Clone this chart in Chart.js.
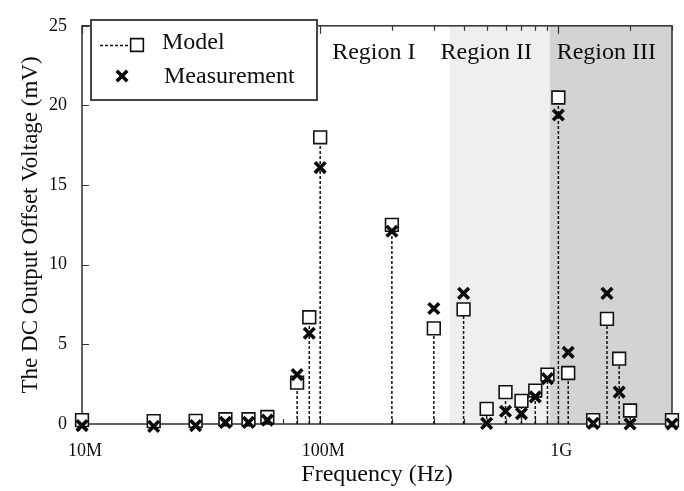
<!DOCTYPE html>
<html><head><meta charset="utf-8">
<script src="https://cdn.jsdelivr.net/npm/chart.js@4/dist/chart.umd.min.js"></script>
<style>html,body{margin:0;padding:0;background:#fff}canvas{display:block}</style>
</head><body>
<canvas id="c" width="684" height="491"></canvas>
<script>
// ---- data ----
const frequencies = [1e7,2e7,3e7,4e7,5e7,6e7,8e7,9e7,1e8,2e8,3e8,4e8,5e8,6e8,7e8,8e8,9e8,1e9,1.1e9,1.4e9,1.6e9,1.8e9,2e9,3e9];
const modelValues = [0.24,0.18,0.2,0.3,0.3,0.44,2.6,6.7,18.0,12.5,6.0,7.2,0.95,2.0,1.45,2.1,3.1,20.5,3.2,0.24,6.6,4.1,0.85,0.24];
const measuredValues = [-0.1,-0.15,-0.1,0.1,0.1,0.24,3.1,5.7,16.1,12.1,7.25,8.2,0.04,0.8,0.65,1.7,2.85,19.4,4.5,0.04,8.2,2.0,0.0,0.0];
const xMajorTicks = [1e7,1e8,1e9];
const xTickLabels = ['10M','100M','1G'];
const xMinorTicks = [2e7,3e7,4e7,5e7,6e7,7e7,8e7,9e7,2e8,3e8,4e8,5e8,6e8,7e8,8e8,9e8,2e9,3e9];
const yTicks = [0,5,10,15,20,25];
const regionNames = ['Region I','Region II','Region III'];
const regionStarts = [1e7,3.5e8,9.2e8];
const regionEnds = [3.5e8,9.2e8,3e9];
const regionColors = ['rgba(0,0,0,0)','#efefef','#d3d3d3'];
const regionLabelAt = [1.68e8,4.98e8,1.59e9];
const seriesNames = ['Model','Measurement'];

const SERIF = '"Liberation Serif", "Times New Roman", serif';
const TEXT = '#0d0d0d';

const stemData = [];
frequencies.forEach((f,i)=>{ stemData.push({x:f,y:0},{x:f,y:modelValues[i]},{x:f,y:null}); });
const modelData = frequencies.map((f,i)=>({x:f,y:modelValues[i]}));
const measData = frequencies.map((f,i)=>({x:f,y:measuredValues[i]}));

const modelStyle = {pointStyle:'rect', radius:9, borderWidth:1.6, borderColor:'#111', backgroundColor:'#fff'};
const measStyle = {pointStyle:'crossRot', radius:7.5, borderWidth:3.6, borderColor:'#0a0a0a', backgroundColor:'#0a0a0a'};

const decor = {
  id:'decor',
  beforeDatasetsDraw(chart){
    const {ctx, chartArea:a, scales:{x,y}} = chart;
    ctx.save();
    for(let i=0;i<regionNames.length;i++){
      const x0 = x.getPixelForValue(regionStarts[i]);
      const x1 = x.getPixelForValue(regionEnds[i]);
      ctx.fillStyle = regionColors[i];
      ctx.fillRect(x0, a.top, x1-x0, a.bottom-a.top);
    }
    ctx.fillStyle = TEXT;
    ctx.font = '24px ' + SERIF;
    ctx.textAlign = 'center';
    ctx.textBaseline = 'alphabetic';
    for(let i=0;i<regionNames.length;i++){
      ctx.fillText(regionNames[i], x.getPixelForValue(regionLabelAt[i]), y.getPixelForValue(22.9));
    }
    // ticks (inward)
    ctx.strokeStyle = '#333';
    ctx.lineWidth = 1.2;
    ctx.beginPath();
    xMinorTicks.forEach(v=>{
      const px = Math.round(x.getPixelForValue(v))+0.5;
      ctx.moveTo(px,a.top); ctx.lineTo(px,a.top+5);
      ctx.moveTo(px,a.bottom); ctx.lineTo(px,a.bottom-5);
    });
    xMajorTicks.forEach(v=>{
      const px = Math.round(x.getPixelForValue(v))+0.5;
      ctx.moveTo(px,a.top); ctx.lineTo(px,a.top+8);
      ctx.moveTo(px,a.bottom); ctx.lineTo(px,a.bottom-8);
    });
    yTicks.forEach(v=>{
      const py = Math.round(y.getPixelForValue(v))+0.5;
      ctx.moveTo(a.left,py); ctx.lineTo(a.left+7,py);
    });
    ctx.stroke();
    // frame
    ctx.strokeStyle = '#3a3a3a';
    ctx.lineWidth = 1.6;
    ctx.strokeRect(a.left, a.top, a.right-a.left, a.bottom-a.top);
    ctx.restore();
  },
  afterDraw(chart){
    const ctx = chart.ctx;
    ctx.save();
    ctx.fillStyle = '#fff';
    ctx.fillRect(91, 20, 226, 80);
    ctx.strokeStyle = '#444';
    ctx.lineWidth = 2;
    ctx.strokeRect(91, 20, 226, 80);
    // model sample
    ctx.strokeStyle = '#111';
    ctx.lineWidth = 1.5;
    ctx.setLineDash([3,2]);
    ctx.beginPath(); ctx.moveTo(100,45.5); ctx.lineTo(131,45.5); ctx.stroke();
    ctx.setLineDash([]);
    ctx.fillStyle = modelStyle.backgroundColor;
    ctx.strokeStyle = modelStyle.borderColor;
    ctx.lineWidth = modelStyle.borderWidth;
    Chart.helpers.drawPoint(ctx, {pointStyle:modelStyle.pointStyle, radius:modelStyle.radius, borderWidth:modelStyle.borderWidth}, 137, 45);
    ctx.fillStyle = measStyle.backgroundColor;
    ctx.strokeStyle = measStyle.borderColor;
    ctx.lineWidth = measStyle.borderWidth;
    Chart.helpers.drawPoint(ctx, {pointStyle:measStyle.pointStyle, radius:measStyle.radius, borderWidth:measStyle.borderWidth}, 122, 76);
    ctx.fillStyle = TEXT;
    ctx.font = '24px ' + SERIF;
    ctx.textAlign = 'left';
    ctx.textBaseline = 'alphabetic';
    ctx.fillText(seriesNames[0], 162, 49);
    ctx.fillText(seriesNames[1], 164, 83);
    ctx.restore();
  }
};

new Chart(document.getElementById('c'), {
  type:'scatter',
  data:{datasets:[
    {label:seriesNames[1], data:measData, order:0, clip:false, showLine:false,
     pointStyle:measStyle.pointStyle, pointRadius:measStyle.radius, pointBorderWidth:measStyle.borderWidth,
     pointBorderColor:measStyle.borderColor, pointBackgroundColor:measStyle.backgroundColor,
     borderColor:measStyle.borderColor, backgroundColor:measStyle.backgroundColor},
    {label:seriesNames[0], data:modelData, order:1, clip:false, showLine:false,
     pointStyle:modelStyle.pointStyle, pointRadius:modelStyle.radius, pointBorderWidth:modelStyle.borderWidth,
     pointBorderColor:modelStyle.borderColor, pointBackgroundColor:modelStyle.backgroundColor,
     borderColor:modelStyle.borderColor, backgroundColor:modelStyle.backgroundColor},
    {label:'stems', data:stemData, order:2, clip:false, showLine:true, spanGaps:false,
     pointRadius:0, borderColor:'#111', borderWidth:1.5, borderDash:[3,2]}
  ]},
  options:{
    responsive:false, animation:false, devicePixelRatio:1,
    layout:{padding:{top:13,right:12,left:0,bottom:0}},
    plugins:{legend:{display:false}, tooltip:{enabled:false}},
    scales:{
      x:{type:'logarithmic', min:1e7, max:3e9,
         afterBuildTicks(s){ s.ticks = xMajorTicks.map(v=>({value:v})); },
         afterFit(s){ s.height = 67; },
         border:{display:false}, grid:{display:false, drawTicks:false},
         ticks:{padding:16, labelOffset:3, color:TEXT, font:{family:SERIF, size:18},
                autoSkip:false, maxRotation:0,
                callback(v){ const k = xMajorTicks.indexOf(v); return k>=0 ? xTickLabels[k] : ''; }},
         title:{display:true, text:'Frequency (Hz)', color:TEXT, font:{family:SERIF, size:24, lineHeight:1}, padding:{top:0,bottom:4}}
      },
      y:{min:0, max:25,
         afterBuildTicks(s){ s.ticks = yTicks.map(v=>({value:v})); },
         afterFit(s){ s.width = 82; },
         border:{display:false}, grid:{display:false, drawTicks:false},
         ticks:{padding:15, color:TEXT, font:{family:SERIF, size:18}},
         title:{display:true, text:'The DC Output Offset Voltage (mV)', color:TEXT, font:{family:SERIF, size:23, lineHeight:1}, padding:{top:19,bottom:0}}
      }
    }
  },
  plugins:[decor]
});
</script>
</body></html>
